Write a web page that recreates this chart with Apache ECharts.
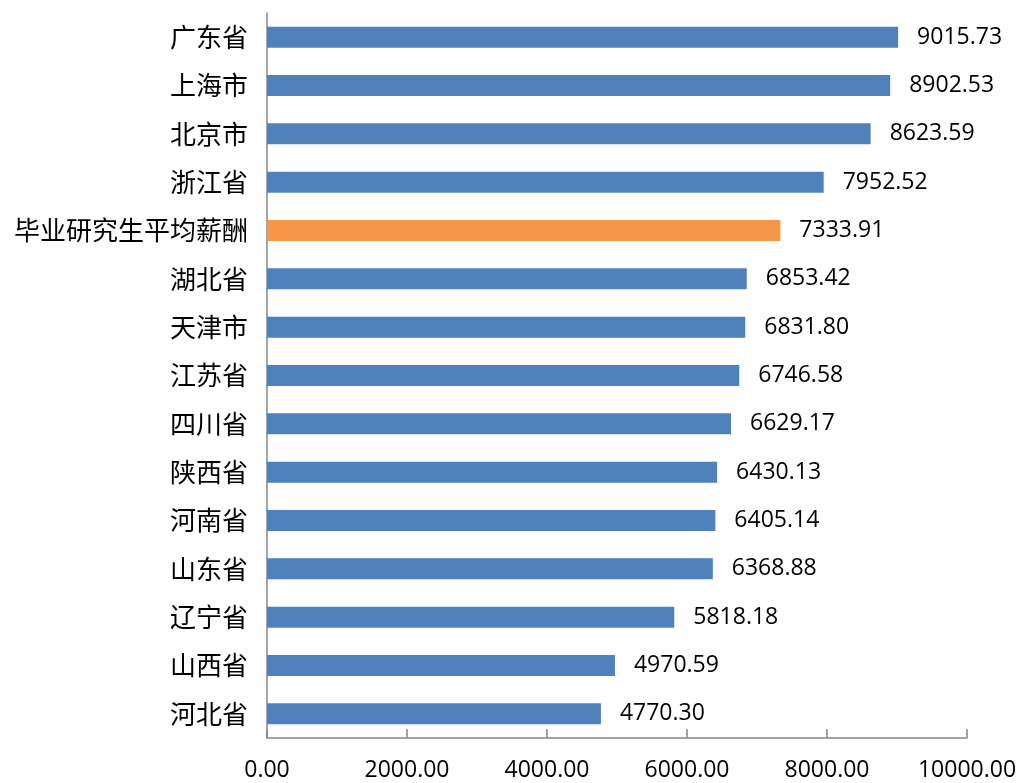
<!DOCTYPE html>
<html>
<head>
<meta charset="utf-8">
<script src="https://cdn.jsdelivr.net/npm/echarts@6/dist/echarts.min.js"></script>
<style>
  html, body { margin: 0; padding: 0; background: #fff; }
  #chart { width: 1020px; height: 783px; }
</style>
</head>
<body>
<div id="chart"></div>
<script>
// Categories, top to bottom as shown
const regions = [
    '广东省', '上海市', '北京市', '浙江省', '毕业研究生平均薪酬',
    '湖北省', '天津市', '江苏省', '四川省', '陕西省',
    '河南省', '山东省', '辽宁省', '山西省', '河北省'
];

// Average salary values
const salaries = [
    9015.73, 8902.53, 8623.59, 7952.52, 7333.91,
    6853.42, 6831.80, 6746.58, 6629.17, 6430.13,
    6405.14, 6368.88, 5818.18, 4970.59, 4770.30
];

// The highlighted (average) category
const highlight = '毕业研究生平均薪酬';

const BLUE = '#4F81BD';
const ORANGE = '#F79646';
const AXIS_GRAY = '#868686';
const NUM_FONT = '"Open Sans", "Liberation Sans", sans-serif';
const CJK_FONT = '"Noto Sans CJK SC", sans-serif';

const chart = echarts.init(document.getElementById('chart'), null, { renderer: 'canvas' });

const option = {
    animation: false,
    backgroundColor: '#ffffff',
    grid: {
        left: 267,
        right: 53,
        top: 13,
        bottom: 45,
        containLabel: false,
    },
    xAxis: {
        type: 'value',
        min: 0,
        max: 10000,
        interval: 2000,
        axisLine: { show: true, lineStyle: { color: AXIS_GRAY, width: 1.5 } },
        axisTick: { show: true, inside: true, length: 9, lineStyle: { color: AXIS_GRAY, width: 1.5 } },
        splitLine: { show: false },
        axisLabel: {
            margin: 21,
            color: '#000',
            fontFamily: NUM_FONT,
            fontSize: 23,
            formatter: (v) => v.toFixed(2),
        },
    },
    yAxis: {
        type: 'category',
        inverse: true,
        data: regions,
        axisLine: { show: true, lineStyle: { color: AXIS_GRAY, width: 1.5 } },
        axisTick: { show: false },
        axisLabel: {
            margin: 19,
            color: '#000',
            fontFamily: CJK_FONT,
            fontSize: 26,
        },
    },
    series: [
        {
            type: 'bar',
            barWidth: 21,
            data: salaries.map((v, i) => ({
                value: v,
                itemStyle: { color: regions[i] === highlight ? ORANGE : BLUE },
            })),
            label: {
                show: true,
                position: 'right',
                distance: 19,
                color: '#000',
                fontFamily: NUM_FONT,
                fontSize: 23,
                formatter: (p) => p.value.toFixed(2),
            },
        },
    ],
};

chart.setOption(option);
</script>
</body>
</html>
